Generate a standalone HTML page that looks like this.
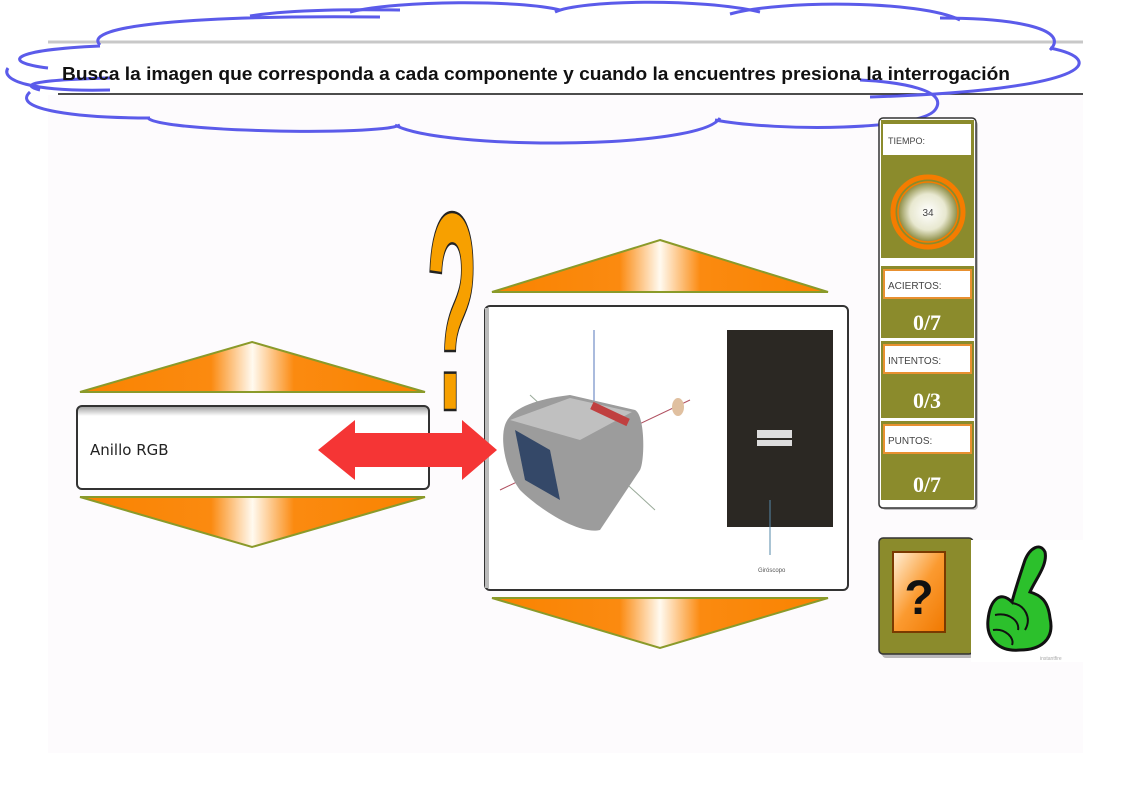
<!DOCTYPE html>
<html><head><meta charset="utf-8"><style>
html,body{margin:0;padding:0;background:#fff;width:1123px;height:794px;overflow:hidden}
svg{display:block}
</style></head><body>
<svg width="1123" height="794" viewBox="0 0 1123 794" font-family="Liberation Sans, sans-serif">
<defs>
<linearGradient id="og" x1="0" x2="1" y1="0" y2="0">
<stop offset="0" stop-color="#f98300"/><stop offset="0.38" stop-color="#fb8a10"/><stop offset="0.5" stop-color="#fffaf0"/><stop offset="0.62" stop-color="#fb8a10"/><stop offset="1" stop-color="#f98300"/>
</linearGradient>
<radialGradient id="cg"><stop offset="0" stop-color="#fff"/><stop offset="0.6" stop-color="#e8e8d0"/><stop offset="1" stop-color="#8a8a40"/></radialGradient>
<linearGradient id="qg" x1="0" y1="0" x2="1" y2="1"><stop offset="0" stop-color="#fff0d8"/><stop offset="0.5" stop-color="#fb9a30"/><stop offset="1" stop-color="#f07800"/></linearGradient>
<linearGradient id="bx" x1="0" y1="0" x2="0" y2="1"><stop offset="0" stop-color="#9a9a9a"/><stop offset="0.12" stop-color="#fff"/><stop offset="1" stop-color="#fff"/></linearGradient>
</defs>
<rect x="48" y="95" width="1035" height="658" fill="#fdfbfd"/>
<line x1="48" y1="42" x2="1083" y2="42" stroke="#c8c8c8" stroke-width="3"/>
<line x1="58" y1="94" x2="1083" y2="94" stroke="#111" stroke-width="1.5"/>

<g fill="none" stroke="#5b5bea" stroke-width="3">
<path d="M100,45 C80,25 200,15 380,17 M250,16 C300,8 380,10 400,10"/>
<path d="M350,12 C400,0 520,0 560,10"/>
<path d="M555,12 C580,0 700,-2 760,12"/>
<path d="M730,14 C780,0 920,0 960,20"/>
<path d="M940,18 C1020,18 1070,30 1050,50"/>
<path d="M48,68 C0,62 10,50 100,46"/>
<path d="M8,68 C0,80 30,92 110,90"/>
<path d="M1050,48 C1110,60 1090,90 870,97"/>
<path d="M30,92 C10,110 80,118 150,118 M40,90 C20,85 30,80 110,78"/>
<path d="M148,118 C160,132 380,136 400,125"/>
<path d="M395,125 C440,150 700,150 720,118"/>
<path d="M715,120 C780,132 920,130 935,110 C950,90 900,82 860,80"/>
</g>
<text x="62" y="80" style="font-family:'Liberation Sans Narrow','Liberation Sans',sans-serif;font-weight:bold;font-size:18px" fill="#111" textLength="948" lengthAdjust="spacingAndGlyphs">Busca la imagen que corresponda a cada componente y cuando la encuentres presiona la interrogación</text>

<polygon points="252,342 425,392 80,392" fill="url(#og)" stroke="#8a9a2a" stroke-width="2"/>
<polygon points="80,497 425,497 252,547" fill="url(#og)" stroke="#8a9a2a" stroke-width="2"/>
<rect x="77" y="406" width="352" height="83" rx="5" fill="url(#bx)" stroke="#333" stroke-width="2"/>
<text x="90" y="455" fill="#222" style="font-family:'DejaVu Sans',sans-serif;font-size:15px">Anillo RGB</text>

<polygon points="660,240 828,292 492,292" fill="url(#og)" stroke="#8a9a2a" stroke-width="2"/>
<polygon points="492,598 828,598 660,648" fill="url(#og)" stroke="#8a9a2a" stroke-width="2"/>
<rect x="485" y="306" width="363" height="284" rx="5" fill="#fff" stroke="#333" stroke-width="2"/>
<line x1="487" y1="308" x2="487" y2="588" stroke="#bbb" stroke-width="4"/>
<line x1="594" y1="330" x2="594" y2="430" stroke="#5577bb" stroke-width="1"/>
<line x1="500" y1="490" x2="690" y2="400" stroke="#b05060" stroke-width="1"/>
<line x1="530" y1="395" x2="655" y2="510" stroke="#9a9" stroke-width="1"/>
<path d="M505,425 C510,410 530,400 570,395 L635,410 C645,415 645,460 640,470 L600,530 C580,535 540,510 520,490 C505,470 500,440 505,425 Z" fill="#9c9c9c"/>
<path d="M510,420 L570,398 L632,412 L580,440 Z" fill="#c0c0c0"/>
<polygon points="515,430 550,450 560,500 525,480" fill="#344868"/>
<rect x="590" y="410" width="40" height="8" fill="#c04040" transform="rotate(25 610 414)"/>
<ellipse cx="678" cy="407" rx="6" ry="9" fill="#e0c0a0"/>
<rect x="727" y="330" width="106" height="197" fill="#2b2823"/>
<rect x="757" y="430" width="35" height="8" fill="#ddd"/>
<rect x="757" y="440" width="35" height="6" fill="#ddd"/>
<line x1="770" y1="500" x2="770" y2="555" stroke="#5588aa"/>
<text x="758" y="572" font-size="6" fill="#555">Giróscopo</text>

<polygon points="318,450 355,420 355,433 462,433 462,420 497,450 462,480 462,467 355,467 355,480" fill="#f53535"/>

<text x="0" y="0" font-size="90" font-weight="bold" fill="#f7a000" stroke="#222" stroke-width="0.8" text-anchor="middle" transform="translate(452,410) scale(0.95,3.15)">?</text>

<rect x="882" y="121" width="96" height="389" rx="4" fill="#666" opacity="0.4"/>
<rect x="879" y="118" width="97" height="390" rx="4" fill="#fff" stroke="#333" stroke-width="1.5"/>
<rect x="881" y="120" width="93" height="138" fill="#8b8b2c"/>
<rect x="883" y="124" width="88" height="31" fill="#fff"/>
<text x="888" y="144" font-size="9" fill="#444">TIEMPO:</text>
<circle cx="928" cy="212" r="35" fill="none" stroke="#f57c00" stroke-width="5"/>
<circle cx="928" cy="212" r="30" fill="url(#cg)" stroke="#f57c00" stroke-width="1.5"/>
<text x="928" y="216" font-size="10" fill="#444" text-anchor="middle">34</text>

<rect x="881" y="266" width="93" height="72" fill="#8b8b2c"/>
<rect x="884" y="270" width="87" height="28" fill="#fff" stroke="#e89030" stroke-width="2"/>
<text x="888" y="289" font-size="10" fill="#444">ACIERTOS:</text>
<text x="927" y="330" style="font-family:'Liberation Serif',serif;font-size:22px;font-weight:bold" fill="#fff" text-anchor="middle">0/7</text>

<rect x="881" y="341" width="93" height="77" fill="#8b8b2c"/>
<rect x="884" y="345" width="87" height="28" fill="#fff" stroke="#e89030" stroke-width="2"/>
<text x="888" y="364" font-size="10" fill="#444">INTENTOS:</text>
<text x="927" y="408" style="font-family:'Liberation Serif',serif;font-size:22px;font-weight:bold" fill="#fff" text-anchor="middle">0/3</text>

<rect x="881" y="421" width="93" height="79" fill="#8b8b2c"/>
<rect x="884" y="425" width="87" height="28" fill="#fff" stroke="#e89030" stroke-width="2"/>
<text x="888" y="444" font-size="10" fill="#444">PUNTOS:</text>
<text x="927" y="492" style="font-family:'Liberation Serif',serif;font-size:22px;font-weight:bold" fill="#fff" text-anchor="middle">0/7</text>

<rect x="882" y="541" width="92" height="117" rx="4" fill="#555" opacity="0.4"/>
<rect x="879" y="538" width="94" height="116" rx="4" fill="#8b8b2c" stroke="#333" stroke-width="1.5"/>
<rect x="893" y="552" width="52" height="80" fill="url(#qg)" stroke="#7a3a00" stroke-width="2"/>
<text x="919" y="614" font-size="48" font-weight="bold" fill="#111" text-anchor="middle">?</text>
<rect x="971" y="540" width="114" height="122" fill="#fff"/>
<path d="M1012,602 C1000,590 990,600 988,620 C986,640 1000,652 1020,650 C1040,650 1055,640 1050,618 C1048,600 1040,595 1030,592 C1035,580 1048,565 1045,552 C1040,542 1030,548 1025,560 C1020,575 1015,590 1012,602 Z" fill="#2cc02c" stroke="#111" stroke-width="3"/>
<path d="M995,615 C1010,612 1020,622 1018,630 M993,630 C1005,628 1015,638 1012,645 M1012,603 C1025,605 1032,618 1025,630" fill="none" stroke="#111" stroke-width="2"/>
<text x="1040" y="660" font-size="5" fill="#aaa">instantfire</text>
</svg>
</body></html>
